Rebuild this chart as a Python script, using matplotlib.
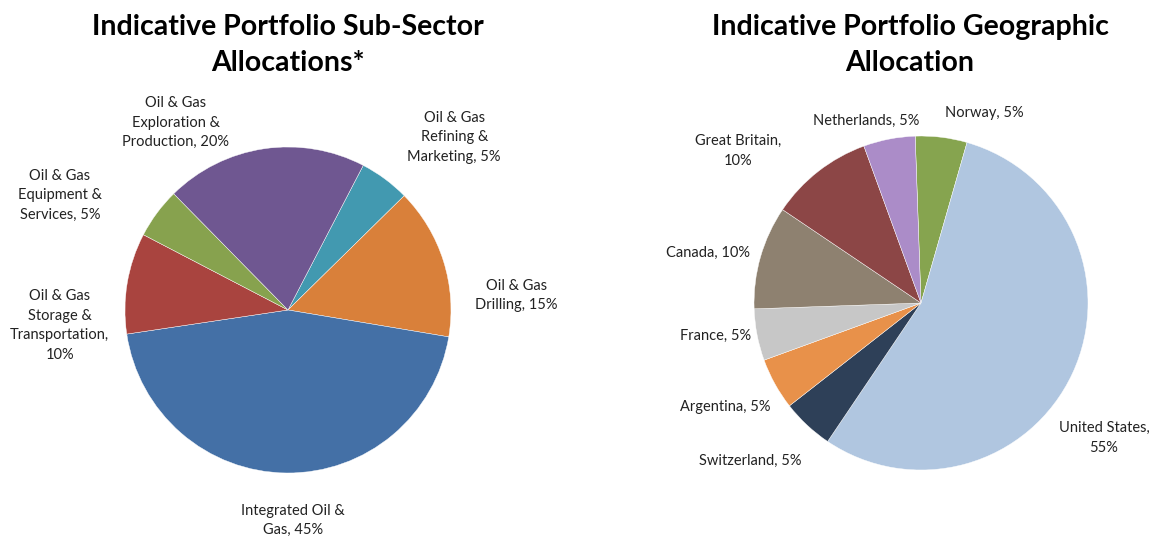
import matplotlib.pyplot as plt

plt.rcParams['font.family'] = ['Lato', 'DejaVu Sans']

# sub-sector allocation, clockwise from the first slice
sector_labels = ['Oil & Gas\nRefining &\nMarketing, 5%', 'Oil & Gas\nDrilling, 15%',
                 'Integrated Oil &\nGas, 45%', 'Oil & Gas\nStorage &\nTransportation,\n10%',
                 'Oil & Gas\nEquipment &\nServices, 5%', 'Oil & Gas\nExploration &\nProduction, 20%']
sector_values = [5, 15, 45, 10, 5, 20]
sector_colors = ['#4299B0', '#D9803A', '#4470A6', '#A9443F', '#87A24E', '#6F5791']

# geographic allocation, clockwise from the first slice
geo_labels = ['Norway, 5%', 'United States,\n55%', 'Switzerland, 5%', 'Argentina, 5%',
              'France, 5%', 'Canada, 10%', 'Great Britain,\n10%', 'Netherlands, 5%']
geo_values = [5, 55, 5, 5, 5, 10, 10, 5]
geo_colors = ['#86A44F', '#B0C6E0', '#2E4058', '#E8914A', '#C7C7C7', '#8E8170', '#8C4646', '#AB8CC8']

# label placement (pie radius = 1)
sector_label_pos = [(1.02, 1.06), (1.40, 0.09), (0.03, -1.29), (-1.40, -0.095),
                    (-1.40, 0.705), (-0.69, 1.15)]
geo_label_pos = [(0.377, 1.138), (1.096, -0.808), (-1.024, -0.946), (-1.174, -0.623),
                 (-1.228, -0.198), (-1.275, 0.30), (-1.096, 0.91), (-0.329, 1.09)]

fig = plt.figure(figsize=(11.54, 5.41), dpi=100)


def draw_pie(rect, values, colors, labels, label_pos, start):
    ax = fig.add_axes(rect)
    ax.pie(values, colors=colors, startangle=start, counterclock=False,
           wedgeprops=dict(linewidth=0.3, edgecolor='white'))
    for (x, y), lab in zip(label_pos, labels):
        ax.text(x, y, lab, ha='center', va='center', fontsize=10.5,
                color='#222222', linespacing=1.5)
    ax.set_xlim(-1, 1)
    ax.set_ylim(-1, 1)
    return ax


draw_pie([0.1083, 0.1257, 0.2825, 0.6026], sector_values, sector_colors,
         sector_labels, sector_label_pos, 62.5)
draw_pie([0.6534, 0.1312, 0.2894, 0.6174], geo_values, geo_colors,
         geo_labels, geo_label_pos, 92)

fig.text(288 / 1154, 1 - 45 / 541, 'Indicative Portfolio Sub-Sector\nAllocations*',
         ha='center', va='center', fontsize=20.5, fontweight='bold', linespacing=1.45)
fig.text(910 / 1154, 1 - 45 / 541, 'Indicative Portfolio Geographic\nAllocation',
         ha='center', va='center', fontsize=20.5, fontweight='bold', linespacing=1.45)

fig.savefig('out.png', dpi=100, facecolor='white')
